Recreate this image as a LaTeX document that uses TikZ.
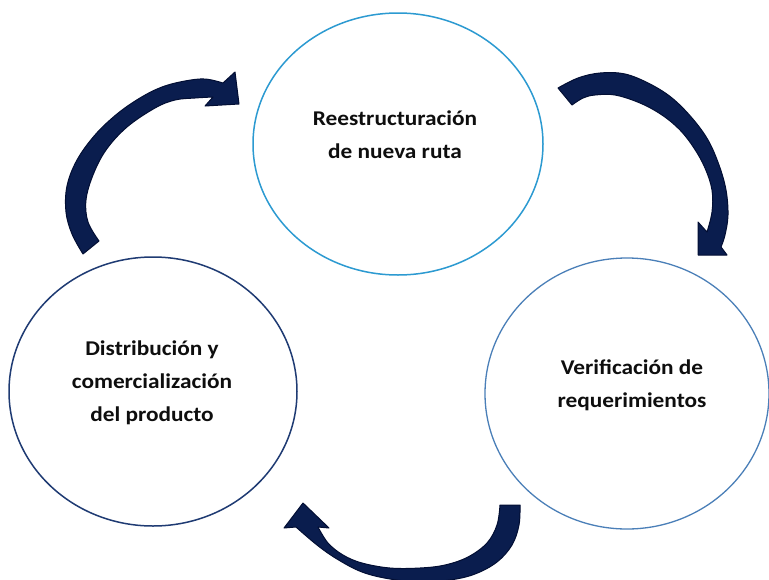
\documentclass[tikz,border=0pt]{standalone}
\usepackage{fontspec}
\setmainfont{Carlito}[FakeStretch=1.11]
\usetikzlibrary{shapes.geometric}

\definecolor{ringtop}{HTML}{2C9AD1}
\definecolor{ringleft}{HTML}{1F3B73}
\definecolor{ringright}{HTML}{4A7FB8}
\definecolor{arrowfill}{HTML}{0A1D4E}
\definecolor{arrowedge}{HTML}{020E33}
\definecolor{labeltext}{HTML}{0E0E0E}

\tikzset{
  stage/.style={ellipse, draw, line width=1.5pt, inner sep=0pt, fill=none},
  stagelabel/.style={align=center, text=labeltext, inner sep=0pt,
    font=\bfseries\fontsize{21}{33}\selectfont},
  blockarrow/.style={fill=arrowfill, draw=arrowedge, line width=1pt, line join=round},
}

\begin{document}
\begin{tikzpicture}[x=1pt, y=-1pt]
  \fill[white] (0,0) rectangle (769,579);
  \useasboundingbox (0,0) rectangle (769,579);
  \clip (0,0) rectangle (769,579);

  % the three stages of the cycle
  \node[stage, draw=ringtop, minimum width=290pt, minimum height=262pt] (ruta) at (398,144) {};
  \node[stage, draw=ringright, line width=1.3pt, minimum width=284pt, minimum height=271pt] (verif) at (627,393.5) {};
  \node[stage, draw=ringleft, minimum width=288pt, minimum height=269pt] (distr) at (153,391.5) {};

  \node[stagelabel] (ltop) at (395,135) {Reestructuración\\de nueva ruta};
  \node[stagelabel] (lright) at (632,385) {Verificación de\\requerimientos};
  \node[stagelabel] (lleft) at (152,383) {Distribución y\\comercialización\\del producto};

  % curved block arrow: distribution -> route restructuring
  \filldraw[blockarrow]
    plot[smooth, tension=0.6] coordinates {(83,254) (72,234) (66,212) (67,186) (77,160) (95,135) (117,114) (140,98) (162,87) (185,81) (205,79) (223,83)}
    -- (235,72) -- (239,104) -- (205,106) -- (213,97)
    -- plot[smooth, tension=0.6] coordinates {(213,97) (195,98) (175,100) (155,108) (127,127) (106,150) (93,175) (86,200) (88,222) (99,241)}
    -- cycle;

  % curved block arrow: route restructuring -> verification
  \filldraw[blockarrow]
    plot[smooth, tension=0.6] coordinates {(558,88) (578,78) (600,73) (625,74) (650,84) (672,98) (692,118) (708,140) (719,165) (726,190) (728,215) (725,235) (721,247)}
    -- (727,255) -- (698,255) -- (698,222) -- (707,232)
    -- plot[smooth, tension=0.6] coordinates {(707,232) (712,212) (712,190) (705,168) (694,148) (680,130) (662,115) (640,103) (615,95) (595,95) (583,98) (572,105)}
    -- cycle;

  % curved block arrow: verification -> distribution
  \filldraw[blockarrow]
    plot[smooth, tension=0.6] coordinates {(520,505) (519,525) (512,545) (497,562) (475,574) (450,580) (420,582) (390,579) (362,572) (337,559) (317,545) (296,527)}
    -- (284,528) -- (303,503) -- (329,528) -- (318,527)
    -- plot[smooth, tension=0.6] coordinates {(318,527) (328,543) (343,555) (362,563) (390,568) (420,568) (445,565) (468,557) (487,543) (497,525) (500,505)}
    -- cycle;
\end{tikzpicture}
\end{document}
